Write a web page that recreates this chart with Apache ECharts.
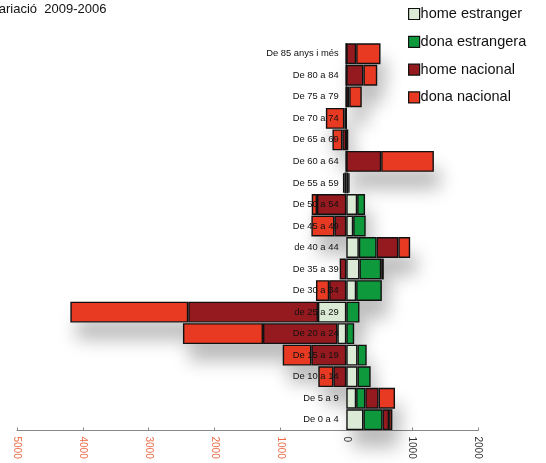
<!DOCTYPE html>
<html><head><meta charset="utf-8">
<script src="https://cdn.jsdelivr.net/npm/echarts@6/dist/echarts.min.js"></script>
<style>html,body{margin:0;padding:0;background:#fff}#c{width:546px;height:463px}</style>
</head><body><div id="c"></div>
<script>
const categories = ["De 0 a 4","De 5 a 9","De 10 a 14","De 15 a 19","De 20 a 24","de 25 a 29","De 30 a 34","De 35 a 39","de 40 a 44","De 45 a 49","De 50 a 54","De 55 a 59","De 60 a 64","De 65 a 69","De 70 a 74","De 75 a 79","De 80 a 84","De 85 anys i més"];
const homeEstranger  = [260, 150, 170, 170, -135, -430, 150, 200, 190, 105, 165, 30, 0, 0, 0, 0, 0, 0];
const donaEstrangera = [290, 140, 200, 140, 120, 200, 390, 330, 270, 190, 120, 20, 0, 30, 0, 0, 0, 0];
const homeNacional   = [100, 200, -195, -530, -1130, -1970, -260, -100, 330, -180, -445, -30, 530, -60, -30, 45, 260, 150];
const donaNacional   = [50, 250, -230, -435, -1215, -1790, -200, 40, 180, -350, -80, -20, 800, -150, -280, 190, 210, 370];
const xTicks = [-5000, -4000, -3000, -2000, -1000, 0, 1000, 2000];
const seriesNames = ["home estranger", "dona estrangera", "home nacional", "dona nacional"];
const seriesColors = ["#dcebd6", "#0e9a3c", "#951a1f", "#e83a22"];

const all = [homeEstranger, donaEstrangera, homeNacional, donaNacional];
const posTotal = categories.map((_, i) => all.reduce((s, a) => s + Math.max(0, a[i]), 0));
const negTotal = categories.map((_, i) => all.reduce((s, a) => s + Math.min(0, a[i]), 0));

const shadowStyle = {color: '#ffffff', shadowColor: 'rgba(0,0,0,0.28)', shadowBlur: 18, shadowOffsetX: 6, shadowOffsetY: 17};
const series = [
  {name: 'sp', type: 'bar', stack: 'shadow', data: posTotal, z: 1, silent: true, itemStyle: shadowStyle, barCategoryGap: '3%', barGap: '-100%'},
  {name: 'sn', type: 'bar', stack: 'shadow', data: negTotal, z: 1, silent: true, itemStyle: shadowStyle, barGap: '-100%'}
];
all.forEach((arr, k) => series.push({
  name: seriesNames[k], type: 'bar', stack: 'main', data: arr, z: 3, barGap: '-100%', barCategoryGap: '3%',
  itemStyle: {color: seriesColors[k], borderColor: '#111', borderWidth: 1.4}
}));

const chart = echarts.init(document.getElementById('c'), null, {renderer: 'canvas'});
chart.setOption({
  animation: false,
  backgroundColor: '#ffffff',
  title: {text: 'Variació  2009-2006', left: -14, top: -2, textStyle: {fontFamily: 'Liberation Sans', fontSize: 13, fontWeight: 'normal', color: '#111'}},
  legend: {
    data: seriesNames, orient: 'vertical', left: 403, top: 1.5, itemWidth: 11, itemHeight: 11, itemGap: 12.8,
    icon: 'rect', textStyle: {fontFamily: 'Liberation Sans', fontSize: 14.5, color: '#111', padding: [0, 0, 0, -4]},
    itemStyle: {borderColor: '#111', borderWidth: 1.2}
  },
  grid: {left: 17, right: 68, top: 43, bottom: 32.5, containLabel: false, outerBoundsMode: 'none'},
  xAxis: {
    type: 'value', min: xTicks[0], max: xTicks[xTicks.length - 1], interval: 1000,
    splitLine: {show: false},
    axisLine: {show: true, lineStyle: {color: '#888', width: 1}},
    axisTick: {show: true, length: 3, inside: true, lineStyle: {color: '#888'}},
    axisLabel: {
      rotate: -90, margin: 6, fontFamily: 'Liberation Sans', fontSize: 10,
      formatter: v => String(Math.abs(v)),
      color: v => (Number(v) < 0 ? '#ec6a45' : '#333')
    }
  },
  yAxis: {
    type: 'category', data: categories, z: 10, offset: -329.6,
    axisLine: {show: false, onZero: false}, axisTick: {show: false},
    axisLabel: {fontFamily: 'Liberation Sans', fontSize: 9.4, color: '#111', margin: 8}
  },
  series: series
});
</script>
</body></html>
